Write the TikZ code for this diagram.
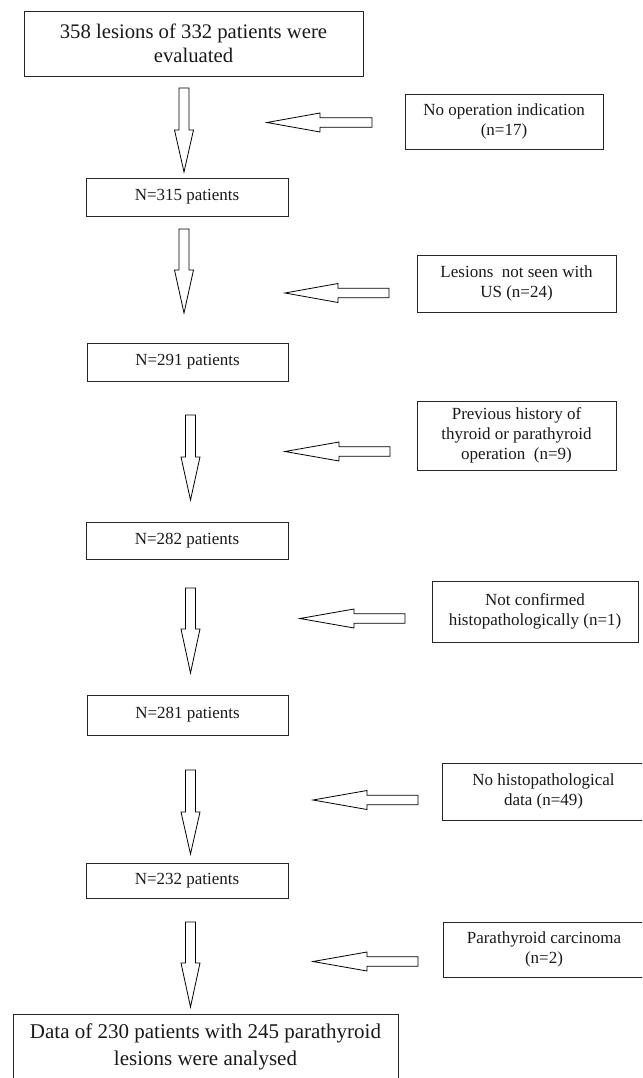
\documentclass[tikz,border=0pt]{standalone}
\usepackage{fontspec}
\setmainfont{Liberation Serif}
\tikzset{
  box/.style={draw=black!85, line width=0.8pt, align=center, inner sep=0pt,
    font=\fontsize{17}{20}\selectfont, text=black!90},
  bigtext/.style={font=\fontsize{20.7}{23.5}\selectfont},
  finaltext/.style={align=center, inner sep=0pt, text=black!90,
    font=\fontsize{21}{27}\selectfont},
  blockarrow/.style={draw=black, line width=0.8pt, fill=white, line join=miter},
}
% cx, top, base, tip
\newcommand{\DArrow}[4]{%
  \draw[blockarrow] ({#1-5},#2) -- ({#1+5},#2) -- ({#1+5},#3) -- ({#1+9.5},#3)
    -- (#1,#4) -- ({#1-9.5},#3) -- ({#1-5},#3) -- cycle;}
% tipx, cy, basex, rightx
\newcommand{\LArrow}[4]{%
  \draw[blockarrow] (#1,#2) -- (#3,{#2-9.5}) -- (#3,{#2-4.7}) -- (#4,{#2-4.7})
    -- (#4,{#2+4.7}) -- (#3,{#2+4.7}) -- (#3,{#2+9.5}) -- cycle;}
\begin{document}
\begin{tikzpicture}[x=1pt,y=-1pt]
\useasboundingbox (0,0) rectangle (642,1078);
\clip (0,0) rectangle (642,1078);

% main column
\node[box, bigtext, minimum width=339, minimum height=65] (b1) at (193.5,43.5)
  {358 lesions of 332 patients were\\evaluated};
\node[box, minimum width=202, minimum height=38] (n315) at (187,197) {N=315 patients};
\node[box, minimum width=201, minimum height=38] (n291) at (187.5,362) {N=291 patients};
\node[box, minimum width=202, minimum height=37] (n282) at (187,540.5) {N=282 patients};
\node[box, minimum width=201, minimum height=40] (n281) at (187.5,715) {N=281 patients};
\node[box, minimum width=202, minimum height=35] (n232) at (187,880.5) {N=232 patients};

\node[draw=black!85, line width=0.8pt, minimum width=385, minimum height=80, inner sep=0pt, anchor=north] (final) at (205.5,1014) {};
\node[finaltext] (finaltxt) at (205.5,1047)
  {Data of 230 patients with 245 parathyroid\\lesions were analysed};

% exclusion boxes
\node[box, minimum width=198, minimum height=55] (r1) at (504,121.5)
  {No operation indication\\(n=17)};
\node[box, minimum width=199, minimum height=57] (r2) at (516.5,283.5)
  {Lesions\ \ not seen with\\US (n=24)};
\node[box, minimum width=199, minimum height=69] (r3) at (516.5,435.5)
  {Previous history of\\thyroid or parathyroid\\operation\ \ (n=9)};
\node[box, minimum width=206, minimum height=61] (r4) at (535,611.5)
  {Not confirmed\\histopathologically (n=1)};
\node[box, minimum width=203, minimum height=57] (r5) at (543.5,791.5)
  {No histopathological\\data (n=49)};
\node[box, minimum width=202, minimum height=55] (r6) at (544,949.5)
  {Parathyroid carcinoma\\(n=2)};

% down block arrows
\DArrow{184}{88}{130}{172}
\DArrow{184}{229}{270}{313}
\DArrow{190.5}{415}{457}{500}
\DArrow{190.5}{588}{629}{673}
\DArrow{190.5}{770}{812}{854}
\DArrow{190.5}{922}{963}{1007}

% left block arrows
\LArrow{267}{122.5}{320}{372}
\LArrow{285}{293}{338}{389}
\LArrow{285}{451.5}{339}{390}
\LArrow{300}{618.5}{354}{405}
\LArrow{313}{800}{367}{418}
\LArrow{313}{961.5}{367}{418}
\end{tikzpicture}
\end{document}
